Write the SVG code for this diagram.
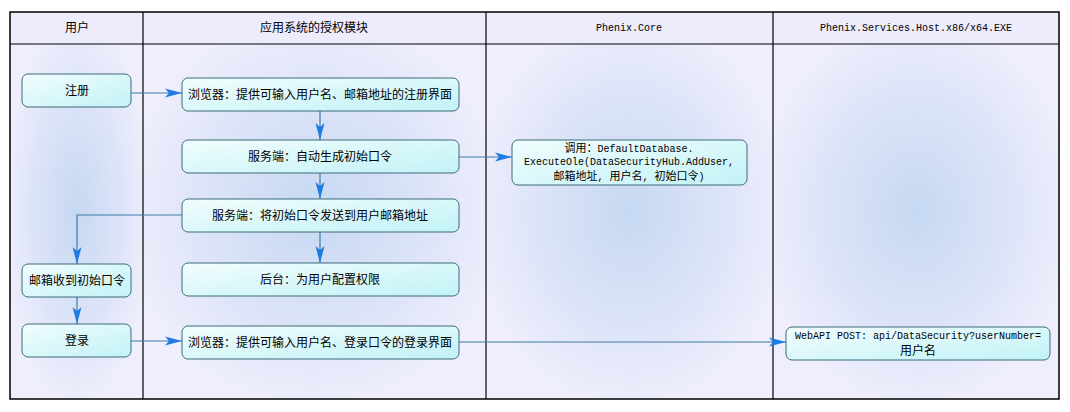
<svg xmlns="http://www.w3.org/2000/svg" width="1070" height="412" viewBox="0 0 1070 412">
<style>
.lane{stroke:none}
.hdr{fill:#ececfc;stroke:none}
.frame{fill:none;stroke:#000;stroke-width:1.5}
.div{stroke:#000;stroke-width:1.2}
.box{fill:url(#boxg);stroke:#3d6b7a;stroke-width:1}
.t{font-family:"Noto Sans CJK SC","Liberation Sans",sans-serif;font-size:12px;fill:#000;text-anchor:middle}
.m{font-family:"Liberation Mono","Noto Sans CJK SC",monospace;font-size:10px;fill:#000;text-anchor:middle}
.c{font-family:"Noto Sans CJK SC",sans-serif;font-size:11px}
.conn{fill:none;stroke:#3f7aa6;stroke-width:1.2}
</style>
<defs>
<radialGradient id="laneg" cx="0.5" cy="0.47" r="0.55">
<stop offset="0" stop-color="#c6d8f2"/>
<stop offset="0.6" stop-color="#dde4f8"/>
<stop offset="1" stop-color="#eeeefc"/>
</radialGradient>
<linearGradient id="boxg" x1="0" y1="0" x2="1" y2="1">
<stop offset="0" stop-color="#f2fdfd"/>
<stop offset="1" stop-color="#c2f2f6"/>
</linearGradient>
<marker id="arr" markerUnits="userSpaceOnUse" markerWidth="18" markerHeight="10" refX="17" refY="5" orient="auto">
<path d="M0,0.5 L17,5 L0,9.5 L4,5 z" fill="#1f7be4"/>
</marker>
</defs>
<g id="lanes">
<rect class="hdr" x="10" y="12" width="1049" height="32"/>
<rect class="lane" x="10" y="44" width="133" height="355" fill="url(#laneg)"/>
<rect class="lane" x="143" y="44" width="343" height="355" fill="url(#laneg)"/>
<rect class="lane" x="486" y="44" width="287" height="355" fill="url(#laneg)"/>
<rect class="lane" x="773" y="44" width="286" height="355" fill="url(#laneg)"/>
<line class="div" x1="10" y1="44" x2="1059" y2="44"/>
<line class="div" x1="143" y1="12" x2="143" y2="399"/>
<line class="div" x1="486" y1="12" x2="486" y2="399"/>
<line class="div" x1="773" y1="12" x2="773" y2="399"/>
<rect class="frame" x="10" y="12" width="1049" height="387"/>
<text class="t" x="77" y="32">用户</text>
<text class="t" x="314" y="32">应用系统的授权模块</text>
<text class="m" x="629" y="31">Phenix.Core</text>
<text class="m" x="916" y="31">Phenix.Services.Host.x86/x64.EXE</text>
</g>
<g id="connectors">
<path class="conn" d="M131,93 L182,93" marker-end="url(#arr)"/>
<path class="conn" d="M320,111 L320,140" marker-end="url(#arr)"/>
<path class="conn" d="M459,157 L512,157" marker-end="url(#arr)"/>
<path class="conn" d="M320,173 L320,199" marker-end="url(#arr)"/>
<path class="conn" d="M182,215 L77,215 L77,264" marker-end="url(#arr)"/>
<path class="conn" d="M320,232 L320,263" marker-end="url(#arr)"/>
<path class="conn" d="M77,297 L77,324" marker-end="url(#arr)"/>
<path class="conn" d="M131,341 L182,341" marker-end="url(#arr)"/>
<path class="conn" d="M459,342 L786,342" marker-end="url(#arr)"/>
</g>
<g id="n-register">
<rect class="box" x="22" y="74" width="109" height="33" rx="6"/>
<text class="t" x="77" y="95">注册</text>
</g>
<g id="n-browser-reg">
<rect class="box" x="182" y="78" width="277" height="33" rx="6"/>
<text class="t" x="320" y="99">浏览器：提供可输入用户名、邮箱地址的注册界面</text>
</g>
<g id="n-server-gen">
<rect class="box" x="182" y="140" width="277" height="33" rx="6"/>
<text class="t" x="320" y="161">服务端：自动生成初始口令</text>
</g>
<g id="n-call">
<rect class="box" x="512" y="140" width="235" height="45" rx="6"/>
<text class="m" x="629" y="152"><tspan class="c">调用：</tspan>DefaultDatabase.</text>
<text class="m" x="629" y="165">ExecuteOle(DataSecurityHub.AddUser,</text>
<text class="m" x="629" y="180"><tspan class="c">邮箱地址</tspan>, <tspan class="c">用户名</tspan>, <tspan class="c">初始口令</tspan>)</text>
</g>
<g id="n-server-send">
<rect class="box" x="182" y="199" width="277" height="33" rx="6"/>
<text class="t" x="320" y="220">服务端：将初始口令发送到用户邮箱地址</text>
</g>
<g id="n-mail">
<rect class="box" x="22" y="264" width="109" height="33" rx="6"/>
<text class="t" x="77" y="285">邮箱收到初始口令</text>
</g>
<g id="n-backend">
<rect class="box" x="182" y="263" width="277" height="33" rx="6"/>
<text class="t" x="320" y="284">后台：为用户配置权限</text>
</g>
<g id="n-login">
<rect class="box" x="22" y="324" width="109" height="33" rx="6"/>
<text class="t" x="77" y="345">登录</text>
</g>
<g id="n-browser-login">
<rect class="box" x="182" y="326" width="277" height="33" rx="6"/>
<text class="t" x="320" y="347">浏览器：提供可输入用户名、登录口令的登录界面</text>
</g>
<g id="n-webapi">
<rect class="box" x="786" y="327" width="264" height="33" rx="6"/>
<text class="m" x="918" y="339">WebAPI POST: api/DataSecurity?userNumber=</text>
<text class="t" x="918" y="355">用户名</text>
</g>
</svg>
